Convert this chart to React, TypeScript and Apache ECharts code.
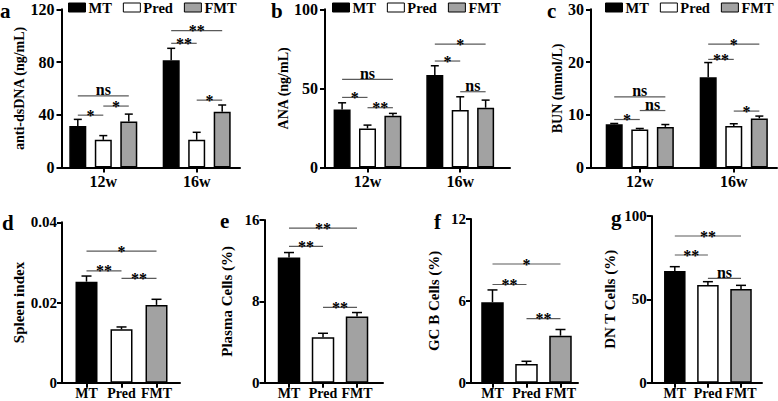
import React, { useEffect, useRef } from "react";
import * as echarts from "echarts";

const FONT = "'Liberation Serif', 'Times New Roman', Times, serif";

const groupNames = ["MT", "Pred", "FMT"];
const weekLabels = ["12w", "16w"];

// a: anti-dsDNA (rows MT, Pred, FMT; columns 12w, 16w)
const aMean = [[31.5, 81.3], [21.0, 21.0], [34.8, 42.3]];
const aErr = [[5.0, 9.1], [3.2, 5.7], [5.7, 5.1]];
const aSig: [number, number, number, number, string][] = [
  [0, 0, 2, 54.4, "ns"], [0, 0, 1, 39.7, "*"], [0, 1, 2, 46.6, "*"],
  [1, 0, 2, 103.8, "**"], [1, 0, 1, 94.2, "**"], [1, 1, 2, 51.1, "*"],
];

// b: ANA
const bMean = [[36.7, 58.4], [24.7, 36.3], [32.7, 37.8]];
const bErr = [[4.2, 5.9], [2.1, 8.4], [1.5, 4.8]];
const bSig: [number, number, number, number, string][] = [
  [0, 0, 2, 55.7, "ns"], [0, 0, 1, 44.3, "*"], [0, 1, 2, 37.8, "**"],
  [1, 0, 2, 78.0, "*"], [1, 0, 1, 67.3, "*"], [1, 1, 2, 47.9, "ns"],
];

// c: BUN
const cMean = [[8.2, 17.1], [7.2, 7.85], [7.7, 9.3]];
const cErr = [[0.15, 2.8], [0.2, 0.45], [0.45, 0.45]];
const cSig: [number, number, number, number, string][] = [
  [0, 0, 2, 13.4, "ns"], [0, 0, 1, 9.1, "*"], [0, 1, 2, 10.8, "ns"],
  [1, 0, 2, 23.4, "*"], [1, 0, 1, 20.5, "**"], [1, 1, 2, 10.7, "*"],
];

// d: Spleen index (MT, Pred, FMT)
const dMean = [0.0252, 0.0133, 0.0194];
const dErr = [0.0014, 0.0006, 0.0014];
const dSig: [number, number, number, string][] = [[0, 2, 0.0328, "*"], [0, 1, 0.0279, "**"], [1, 2, 0.026, "**"]];

// e: Plasma cells
const eMean = [12.3, 4.46, 6.5];
const eErr = [0.5, 0.4, 0.4];
const eSig: [number, number, number, string][] = [[0, 2, 15.2, "**"], [0, 1, 13.4, "**"], [1, 2, 7.4, "**"]];

// f: GC B cells
const fMean = [5.9, 1.37, 3.45];
const fErr = [0.9, 0.2, 0.45];
const fSig: [number, number, number, string][] = [[0, 2, 8.7, "*"], [0, 1, 7.2, "**"], [1, 2, 4.7, "**"]];

// g: DN T cells
const gMean = [67.0, 58.6, 56.2];
const gErr = [2.6, 2.0, 2.2];
const gSig: [number, number, number, string][] = [[0, 2, 88.0, "**"], [0, 1, 76.6, "**"], [1, 2, 62.6, "ns"]];

const fills = ["#000000", "#ffffff", "#a2a2a2"];

const topPanels = [
  { mean: aMean, err: aErr, sig: aSig, name: "anti-dsDNA (ng/mL)", yMax: 120, yInt: 40, left: 61.5, width: 178.5, xMin: 0.5525, xMax: 2.4637, step: 0.273, nameGap: 35, letter: "a", letterLeft: 0, legendLeft: 68 },
  { mean: bMean, err: bErr, sig: bSig, name: "ANA (ng/mL)", yMax: 100, yInt: 50, left: 325, width: 185, xMin: 0.5415, xMax: 2.537, step: 0.274, nameGap: 29, letter: "b", letterLeft: 271, legendLeft: 332 },
  { mean: cMean, err: cErr, sig: cSig, name: "BUN (mmol/L)", yMax: 30, yInt: 10, left: 591, width: 186, xMin: 0.481, xMax: 2.46, step: 0.272, nameGap: 25, letter: "c", letterLeft: 547, legendLeft: 605 },
];

const bottomPanels = [
  { mean: dMean, err: dErr, sig: dSig, name: "Spleen index", yMax: 0.04, yInt: 0.02, left: 62, width: 118, top: 222.3, xMin: 0.3, xMax: 3.671, nameGap: 33, letter: "d", letterLeft: 2, letterTop: 212, barW: 22 },
  { mean: eMean, err: eErr, sig: eSig, name: "Plasma Cells (%)", yMax: 16, yInt: 8, left: 264.5, width: 118.5, top: 220, xMin: 0.279, xMax: 3.764, nameGap: 30, letter: "e", letterLeft: 220, letterTop: 210, barW: 22.5 },
  { mean: fMean, err: fErr, sig: fSig, name: "GC B Cells (%)", yMax: 12, yInt: 6, left: 471, width: 107, top: 219, xMin: 0.368, xMax: 3.515, nameGap: 30, letter: "f", letterLeft: 434, letterTop: 211, barW: 22.5 },
  { mean: gMean, err: gErr, sig: gSig, name: "DN T Cells (%)", yMax: 100, yInt: 50, left: 651.7, width: 110.3, top: 216, xMin: 0.302, xMax: 3.634, nameGap: 34, letter: "g", letterLeft: 611, letterTop: 207, barW: 21.5 },
];

const BOTTOM = 382.7;
const TOP_TOP = 9.3;
const TOP_BOTTOM = 167.5;

function errSeries(idx: number, data: number[][], cap: number) {
  return {
    type: "custom",
    xAxisIndex: idx,
    yAxisIndex: idx,
    z: 3,
    silent: true,
    encode: { x: 0, y: [1] },
    data,
    renderItem: (_params: any, api: any) => {
      const x = api.value(0);
      const m = api.value(1);
      const e = api.value(2);
      const p0 = api.coord([x, m]);
      const p1 = api.coord([x, m + e]);
      const st = { stroke: "#000", lineWidth: 1.5 };
      return {
        type: "group",
        children: [
          { type: "line", shape: { x1: p0[0], y1: p0[1], x2: p1[0], y2: p1[1] }, style: st },
          { type: "line", shape: { x1: p1[0] - cap, y1: p1[1], x2: p1[0] + cap, y2: p1[1] }, style: st },
        ],
      };
    },
  };
}

function sigSeries(idx: number, data: number[][], labels: string[]) {
  return {
    type: "custom",
    xAxisIndex: idx,
    yAxisIndex: idx,
    z: 4,
    silent: true,
    encode: { x: [0, 1], y: 2 },
    data,
    renderItem: (params: any, api: any) => {
      const label = labels[params.dataIndex];
      const a = api.coord([api.value(0), api.value(2)]);
      const b = api.coord([api.value(1), api.value(2)]);
      const isStar = label.indexOf("*") >= 0;
      return {
        type: "group",
        children: [
          { type: "line", shape: { x1: a[0], y1: a[1], x2: b[0], y2: b[1] }, style: { stroke: "#5a5a5a", lineWidth: 1.2 } },
          {
            type: "text",
            x: (a[0] + b[0]) / 2,
            y: a[1] + (isStar ? 8 : 2),
            style: {
              text: label,
              fill: "#000",
              fontSize: 16,
              fontWeight: "bold",
              fontFamily: FONT,
              align: "center",
              verticalAlign: "bottom",
              textAlign: "center",
              textVerticalAlign: "bottom",
            },
          },
        ],
      };
    },
  };
}

function buildOption() {
  const grid: any[] = [];
  const xAxis: any[] = [];
  const yAxis: any[] = [];
  const series: any[] = [];
  const title: any[] = [];
  const legend: any[] = [];

  const axisLineStyle = { color: "#000", width: 2 };

  topPanels.forEach((p, pi) => {
    grid.push({ left: p.left, width: p.width, top: TOP_TOP, height: TOP_BOTTOM - TOP_TOP });
    const ticks = weekLabels.map((_, wi) => wi + 1);
    xAxis.push({
      type: "value", gridIndex: pi, min: p.xMin, max: p.xMax,
      splitLine: { show: false },
      axisLine: { show: true, lineStyle: axisLineStyle },
      axisTick: { show: true, customValues: ticks, length: 5, lineStyle: { width: 2, color: "#000" } },
      axisLabel: {
        show: true, customValues: ticks, margin: 6,
        formatter: (v: number) => weekLabels[Math.round(v) - 1] ?? "",
        color: "#000", fontSize: 16, fontWeight: "bold", fontFamily: FONT,
      },
    });
    yAxis.push({
      type: "value", gridIndex: pi, min: 0, max: p.yMax, interval: p.yInt,
      splitLine: { show: false },
      axisLine: { show: true, lineStyle: axisLineStyle },
      axisTick: { show: true, length: 5, lineStyle: { width: 2, color: "#000" } },
      axisLabel: { color: "#000", fontSize: 16, fontWeight: "bold", fontFamily: FONT, margin: 7 },
      name: p.name, nameLocation: "middle", nameGap: p.nameGap,
      nameTextStyle: { color: "#000", fontSize: 14, fontWeight: "bold", fontFamily: FONT },
    });
    groupNames.forEach((g, si) => {
      series.push({
        type: "bar", name: g, xAxisIndex: pi, yAxisIndex: pi,
        barWidth: 17, barGap: "-100%", silent: true,
        data: weekLabels.map((_, wi) => [wi + 1 + (si - 1) * p.step, p.mean[si][wi]]),
        itemStyle: { color: fills[si], borderColor: "#000", borderWidth: 1.5 },
      });
    });
    const errData: number[][] = [];
    groupNames.forEach((_, si) => weekLabels.forEach((__, wi) => {
      errData.push([wi + 1 + (si - 1) * p.step, p.mean[si][wi], p.err[si][wi]]);
    }));
    series.push(errSeries(pi, errData, 4));
    const sigData = p.sig.map((s) => [s[0] + 1 + (s[1] - 1) * p.step, s[0] + 1 + (s[2] - 1) * p.step, s[3]]);
    series.push(sigSeries(pi, sigData, p.sig.map((s) => s[4])));
    title.push({ text: p.letter, left: p.letterLeft, top: 0, padding: 0, textStyle: { fontSize: 21, fontWeight: "bold", fontFamily: FONT, color: "#000" } });
    legend.push({
      left: p.legendLeft, top: 0, width: 200, padding: 0, icon: "rect", itemWidth: 17, itemHeight: 9, itemGap: 11,
      selectedMode: false,
      textStyle: { fontSize: 14.5, fontWeight: "bold", fontFamily: FONT, color: "#000", padding: [0, 0, 0, -2] },
      data: [
        { name: "MT", itemStyle: { color: fills[0], borderColor: "#000", borderWidth: 1 } },
        { name: "Pred", itemStyle: { color: fills[1], borderColor: "#000", borderWidth: 1 } },
        { name: "FMT", itemStyle: { color: fills[2], borderColor: "#000", borderWidth: 1 } },
      ],
    });
  });

  bottomPanels.forEach((p, bi) => {
    const pi = bi + topPanels.length;
    grid.push({ left: p.left, width: p.width, top: p.top, height: BOTTOM - p.top });
    const ticks = groupNames.map((_, gi) => gi + 1);
    xAxis.push({
      type: "value", gridIndex: pi, min: p.xMin, max: p.xMax,
      splitLine: { show: false },
      axisLine: { show: true, lineStyle: axisLineStyle },
      axisTick: { show: true, customValues: ticks, length: 5, lineStyle: { width: 2, color: "#000" } },
      axisLabel: {
        show: true, customValues: ticks, margin: 4,
        formatter: (v: number) => groupNames[Math.round(v) - 1] ?? "",
        color: "#000", fontSize: 14, fontWeight: "bold", fontFamily: FONT,
      },
    });
    yAxis.push({
      type: "value", gridIndex: pi, min: 0, max: p.yMax, interval: p.yInt,
      splitLine: { show: false },
      axisLine: { show: true, lineStyle: axisLineStyle },
      axisTick: { show: true, length: 5, lineStyle: { width: 2, color: "#000" } },
      axisLabel: { color: "#000", fontSize: 15, fontWeight: "bold", fontFamily: FONT, margin: 5 },
      name: p.name, nameLocation: "middle", nameGap: p.nameGap,
      nameTextStyle: { color: "#000", fontSize: 15, fontWeight: "bold", fontFamily: FONT },
    });
    groupNames.forEach((g, si) => {
      series.push({
        type: "bar", name: g, xAxisIndex: pi, yAxisIndex: pi,
        barWidth: p.barW, barGap: "-100%", silent: true,
        data: [[si + 1, p.mean[si]]],
        itemStyle: { color: fills[si], borderColor: "#000", borderWidth: 1.5 },
      });
    });
    const errData = groupNames.map((_, si) => [si + 1, p.mean[si], p.err[si]]);
    series.push(errSeries(pi, errData, 5));
    const sigData = p.sig.map((s) => [s[0] + 1, s[1] + 1, s[2]]);
    series.push(sigSeries(pi, sigData, p.sig.map((s) => s[3])));
    title.push({ text: p.letter, left: p.letterLeft, top: p.letterTop, padding: 0, textStyle: { fontSize: 21, fontWeight: "bold", fontFamily: FONT, color: "#000" } });
  });

  return {
    animation: false,
    backgroundColor: "#ffffff",
    textStyle: { fontFamily: FONT },
    title,
    legend,
    grid,
    xAxis,
    yAxis,
    series,
  };
}

export default function App() {
  const ref = useRef<HTMLDivElement>(null);
  useEffect(() => {
    if (!ref.current) return;
    const chart = echarts.init(ref.current, undefined, { renderer: "svg" });
    chart.setOption(buildOption() as any);
    return () => chart.dispose();
  }, []);
  return (
    <div
      ref={ref}
      style={{ position: "fixed", left: 0, top: 0, width: 778, height: 401, background: "#fff" }}
    />
  );
}
